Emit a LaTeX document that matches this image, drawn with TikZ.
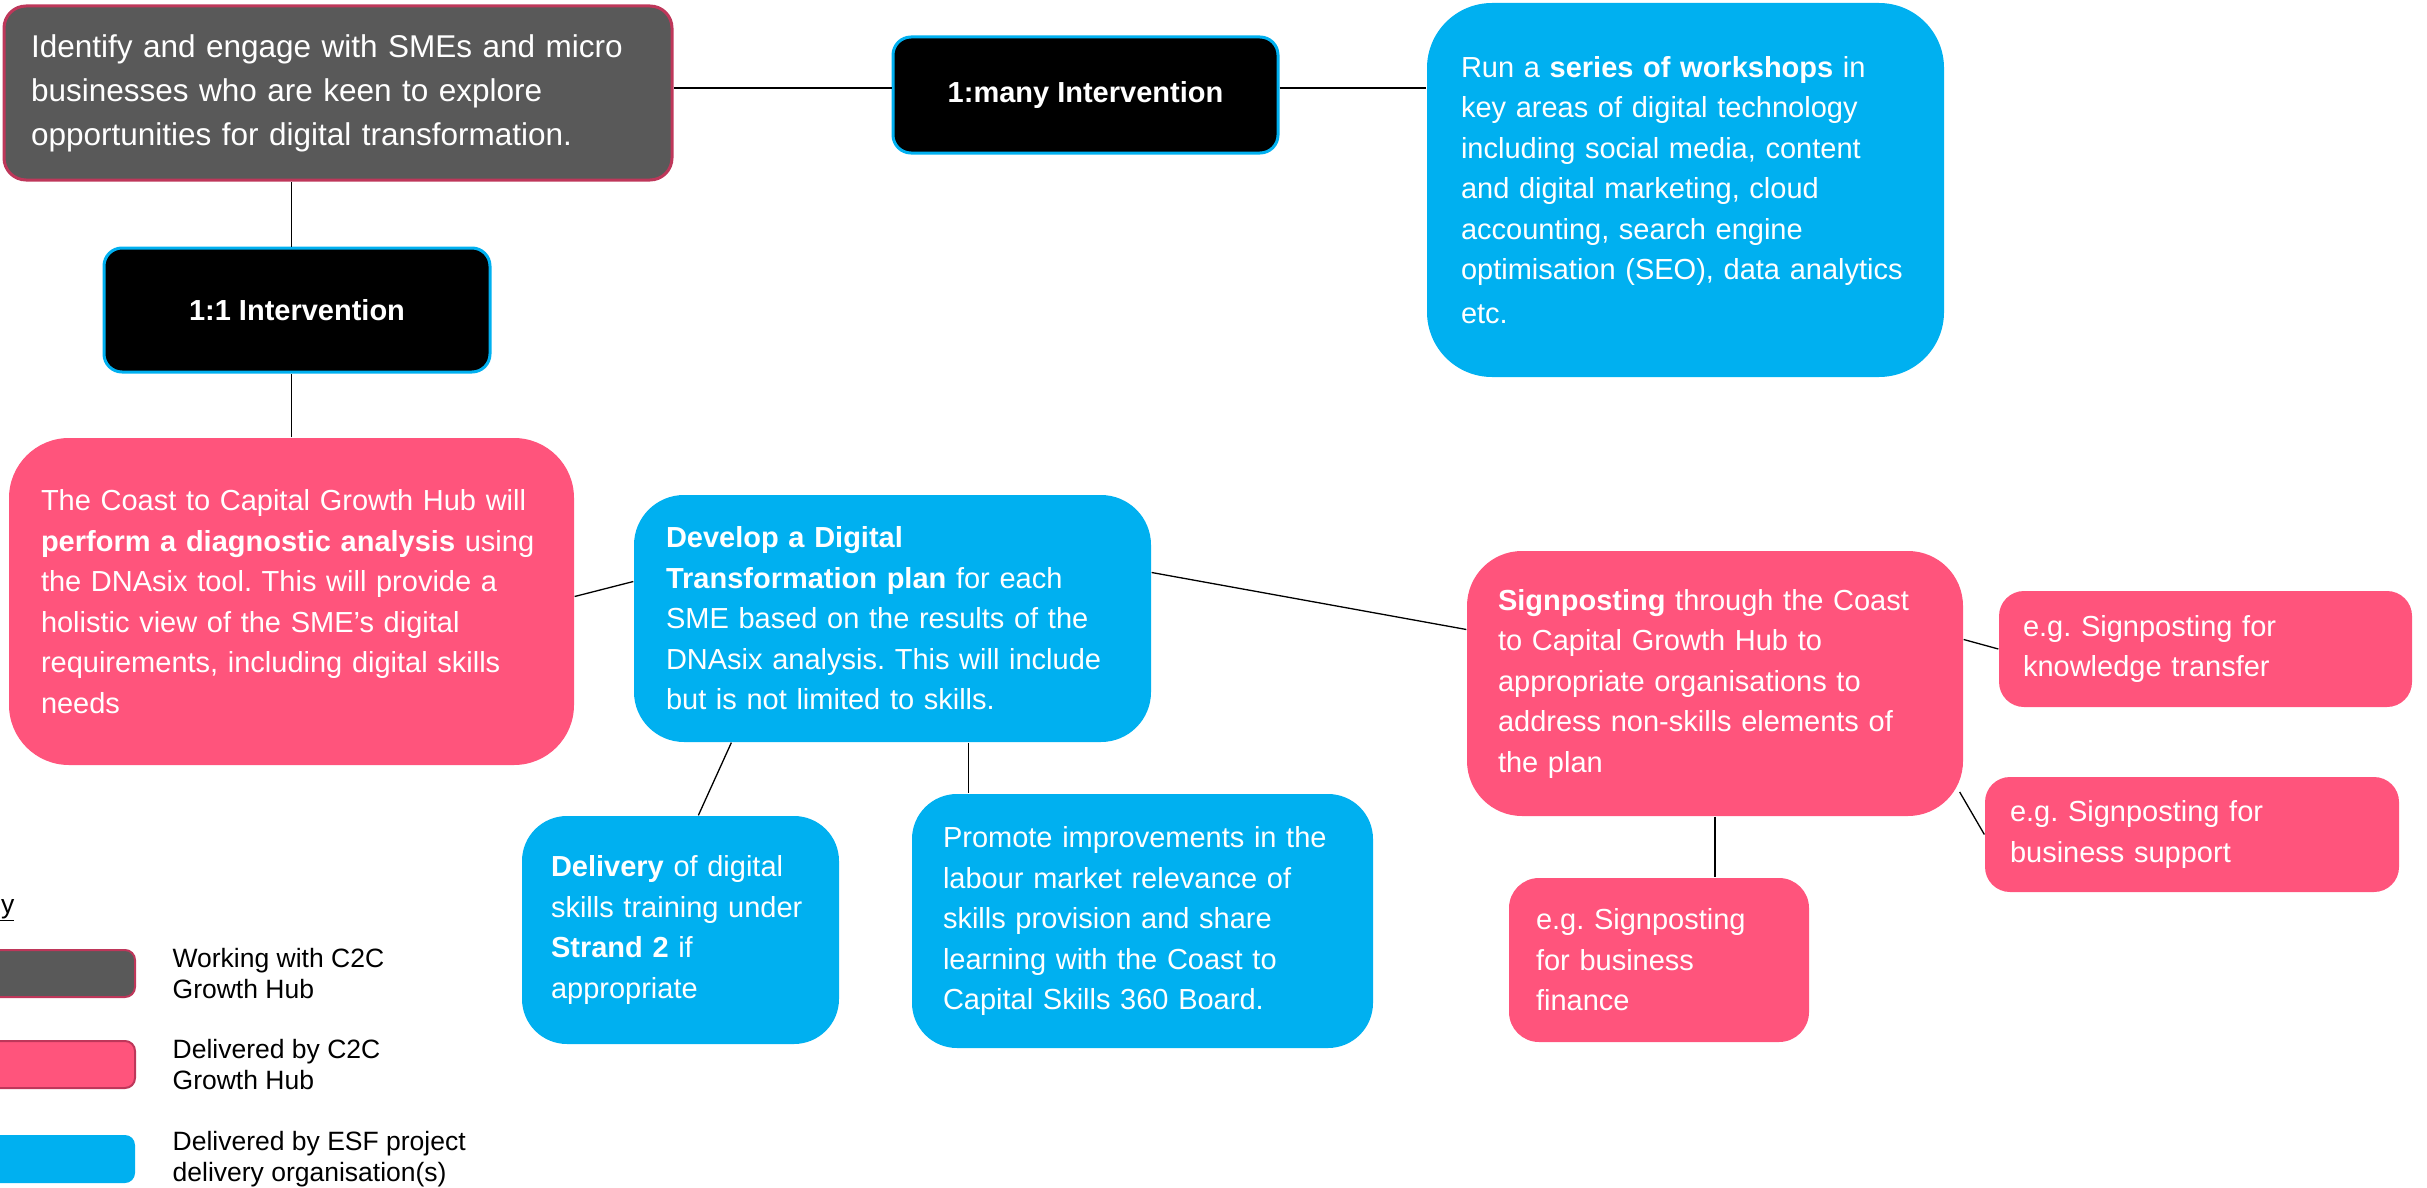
\documentclass[tikz,border=0pt]{standalone}
\usepackage{fontspec}
\setmainfont{Liberation Sans}
\usetikzlibrary{positioning}
\definecolor{hubpink}{RGB}{255,84,124}
\definecolor{hubgrey}{RGB}{89,89,89}
\definecolor{esfblue}{RGB}{0,176,240}
\definecolor{edgepink}{RGB}{190,55,90}
\frenchspacing
\hyphenpenalty=10000
\exhyphenpenalty=10000

\begin{document}
\begin{tikzpicture}[x=1pt, y=-1pt, line width=1.3pt,
		box node/.style={inner ysep=0pt, align=left, text=white, font=\fontsize{29}{40.5}\selectfont},
		grey node/.style={box node, fill=hubgrey, draw=edgepink, line width=3pt, font=\fontsize{31.5}{44}\selectfont},
		pink node/.style={box node, fill=hubpink},
		blue node/.style={box node, fill=esfblue},
		black node/.style={fill=black, draw=esfblue, line width=3pt, rounded corners=18pt,
			text=white, font=\fontsize{29}{35}\selectfont\bfseries},
		key box/.style={minimum width=195pt, minimum height=47pt, rounded corners=10pt, line width=2pt},
		key text/.style={inner sep=0pt, align=left, font=\fontsize{26.5}{31}\selectfont, right=36pt of #1}]
		
		\useasboundingbox (0,0) rectangle (2427,1188);
		
		\node[grey node, rounded corners=22pt, minimum height=174pt, inner xsep=27pt, text width=614pt] (identify) at (338,93)
		{Identify and engage with SMEs and micro\\businesses who are keen to explore\\opportunities for digital transformation.};
		\node[black node, minimum width=386pt, minimum height=124pt] (one2one) at (297,310) {1:1 Intervention};
		\node[black node, minimum width=385pt, minimum height=116pt] (many) at (1085.5,95) {1:many Intervention};
		\node[blue node, rounded corners=65pt, minimum height=374pt, inner xsep=34pt, text width=449pt] (workshops) at (1685.5,190)
		{Run a \textbf{series of workshops} in\\key areas of digital technology\\including social media, content\\and digital marketing, cloud\\accounting, search engine\\optimisation (SEO), data analytics\\[3pt]etc.};
		
		\node[pink node, rounded corners=60pt, minimum height=327pt, inner xsep=32pt, text width=501pt] (diagnostic) at (291.5,601.5)
		{The Coast to Capital Growth Hub will\\\textbf{perform a diagnostic analysis} using\\the DNAsix tool. This will provide a\\holistic view of the SME’s digital\\requirements, including digital skills\\needs};
		\node[blue node, rounded corners=50pt, minimum height=247pt, inner xsep=32pt, text width=453pt] (plan) at (892.5,618.5)
		{\textbf{Develop a Digital}\\\textbf{Transformation plan} for each\\SME based on the results of the\\DNAsix analysis. This will include\\but is not limited to skills.};
		\node[blue node, rounded corners=45pt, minimum height=228pt, inner xsep=29pt, text width=259pt] (delivery) at (680.5,930)
		{\textbf{Delivery} of digital\\skills training under\\\textbf{Strand 2} if\\appropriate};
		\node[blue node, rounded corners=45pt, minimum height=254pt, inner xsep=31pt, text width=399pt] (promote) at (1142.5,921)
		{Promote improvements in the\\labour market relevance of\\skills provision and share\\learning with the Coast to\\Capital Skills 360 Board.};
		
		\node[pink node, rounded corners=55pt, minimum height=265pt, inner xsep=31pt, text width=434pt] (signposting) at (1715,683.5)
		{\textbf{Signposting} through the Coast\\to Capital Growth Hub to\\appropriate organisations to\\address non-skills elements of\\the plan};
		\node[pink node, rounded corners=25pt, minimum height=116pt, inner xsep=24pt, text width=365pt] (knowledge) at (2205.5,649)
		{e.g. Signposting for\\knowledge transfer};
		\node[pink node, rounded corners=25pt, minimum height=115pt, inner xsep=25pt, text width=364pt] (support) at (2192,834.5)
		{e.g. Signposting for\\business support};
		\node[pink node, rounded corners=30pt, minimum height=164pt, inner xsep=27pt, text width=246pt] (finance) at (1659,960)
		{e.g. Signposting\\for business\\finance};
		
		% key
		\node[anchor=base east, inner sep=0pt, font=\fontsize{26.5}{31}\selectfont] (keytitle) at (15,913) {\underline{Key}};
		\node[key box, fill=hubgrey, draw=edgepink] (keygrey) at (37.5,973.5) {};
		\node[key box, fill=hubpink, draw=edgepink] (keypink) at (37.5,1064.5) {};
		\node[key box, fill=esfblue, minimum height=48pt] (keyblue) at (37.5,1159) {};
		\node[key text=keygrey] (keygreytext) {Working with C2C\\Growth Hub};
		\node[key text=keypink] (keypinktext) {Delivered by C2C\\Growth Hub};
		\node[key text=keyblue] (keybluetext) {Delivered by ESF project\\delivery organisation(s)};
		
		\path[draw]
		(one2one.north -| diagnostic.north) edge (identify.south -| diagnostic.north)
		(diagnostic.north) edge (diagnostic.north |- one2one.south)
		([yshift=7pt]many.west) edge ([yshift=7pt]many.west -| identify.east)
		([yshift=7pt]many.east) edge ([yshift=7pt]many.east -| workshops.west)
		([yshift=5pt]diagnostic.east) edge ([yshift=37pt]plan.west)
		([xshift=98pt]plan.south west) edge ([xshift=177pt]delivery.north west)
		([xshift=76pt]plan.south) edge ([xshift=76pt]plan.south |- promote.north)
		([yshift=46pt]plan.east) edge ([yshift=54pt]signposting.west)
		([yshift=44pt]signposting.east) edge (knowledge.west)
		([shift={(-4pt,-108.5pt)}]signposting.east) edge (support.west)
		(signposting.south) edge (signposting.south |- finance.north);
		\end{tikzpicture}
\end{document}
